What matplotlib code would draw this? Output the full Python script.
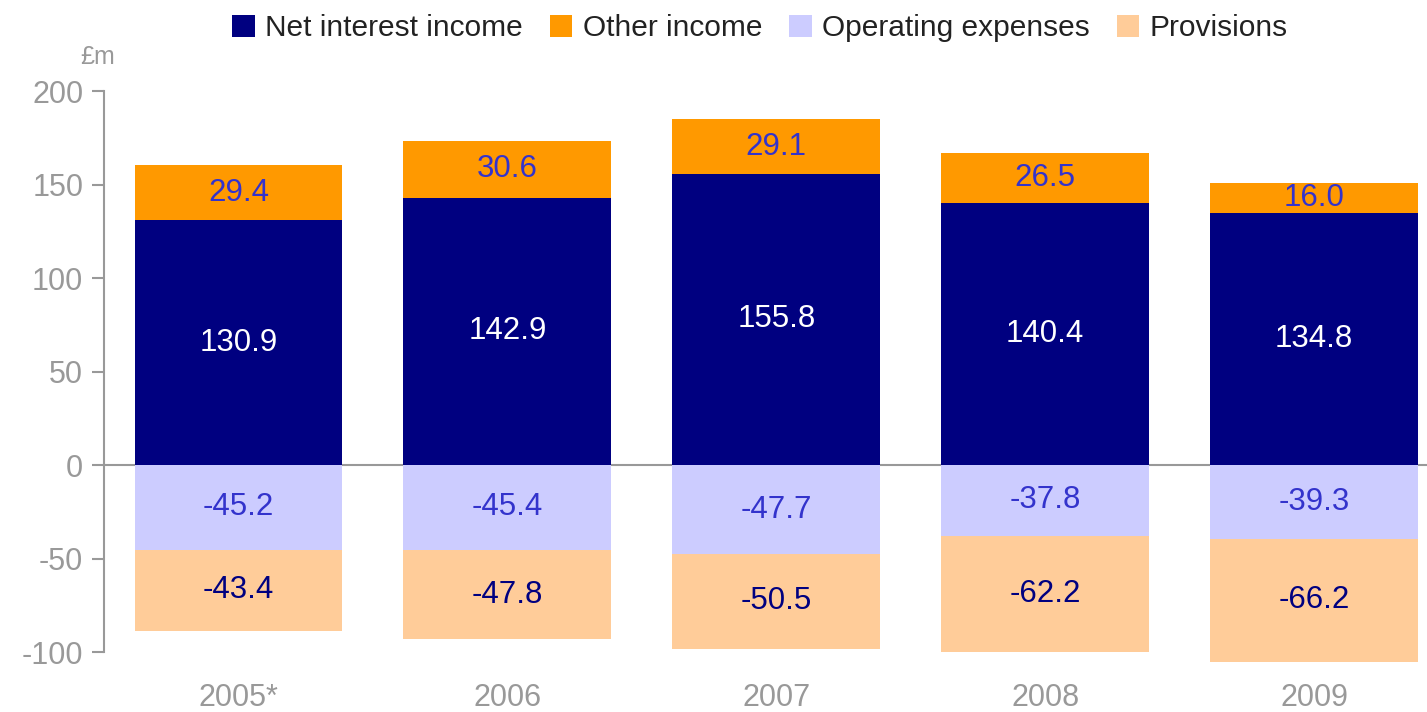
import numpy as np
import matplotlib.pyplot as plt

plt.rcParams['font.family'] = ['Liberation Sans', 'DejaVu Sans']
plt.rcParams['axes.unicode_minus'] = False

# Data (£m)
years = ["2005*", "2006", "2007", "2008", "2009"]
net_interest = [130.9, 142.9, 155.8, 140.4, 134.8]
other_income = [29.4, 30.6, 29.1, 26.5, 16.0]
operating_exp = [-45.2, -45.4, -47.7, -37.8, -39.3]
provisions = [-43.4, -47.8, -50.5, -62.2, -66.2]

c_nii = "#000080"
c_oth = "#FF9900"
c_opx = "#CCCCFF"
c_prov = "#FFCC99"
grey = "#999999"

fig = plt.figure(figsize=(14.27, 7.12), dpi=100)
ax = fig.add_axes([104 / 1427, 0.058, 1 - 104 / 1427, 0.872 - 0.058])

x = np.arange(len(years))
w = 0.773
nii = np.array(net_interest)
oth = np.array(other_income)
opx = np.array(operating_exp)
prov = np.array(provisions)

ax.bar(x, nii, w, color=c_nii, label="Net interest income")
ax.bar(x, oth, w, bottom=nii, color=c_oth, label="Other income")
ax.bar(x, opx, w, color=c_opx, label="Operating expenses")
ax.bar(x, prov, w, bottom=opx, color=c_prov, label="Provisions")

# segment labels, centred in each segment
fs = 22.5
for i in range(len(x)):
    ax.text(x[i], nii[i] / 2, f"{nii[i]:.1f}", ha="center", va="center", color="white", fontsize=fs)
    ax.text(x[i], nii[i] + oth[i] / 2, f"{oth[i]:.1f}", ha="center", va="center", color="#3333CC", fontsize=fs)
    ax.text(x[i], opx[i] / 2, f"{opx[i]:.1f}", ha="center", va="center", color="#3333CC", fontsize=fs)
    ax.text(x[i], opx[i] + prov[i] / 2, f"{prov[i]:.1f}", ha="center", va="center", color=c_nii, fontsize=fs)

ax.axhline(0, color=grey, lw=1.5, zorder=0.5)

ax.set_xlim(-0.5, 4.42)
ax.set_ylim(-110, 200)
ax.set_yticks([-100, -50, 0, 50, 100, 150, 200])
ax.set_xticks(x)
ax.set_xticklabels(years)

for s in ["top", "right", "bottom"]:
    ax.spines[s].set_visible(False)
ax.spines["left"].set_color(grey)
ax.spines["left"].set_linewidth(1.5)
ax.spines["left"].set_bounds(-100, 200)

ax.tick_params(axis="y", colors=grey, labelsize=22, length=9, width=1.5, pad=6)
ax.tick_params(axis="x", colors=grey, labelsize=22, length=0, pad=9)

fig.text(98 / 1427, 1 - 57 / 712, "£m", ha="center", va="center", color=grey, fontsize=18)

fig.legend(*ax.get_legend_handles_labels(), loc="center", bbox_to_anchor=(760 / 1427, 1 - 28 / 712),
           ncol=4, frameon=False, fontsize=21.5, handlelength=0.75, handleheight=0.75,
           handletextpad=0.35, columnspacing=0.9, labelcolor="#222222")

fig.savefig("out.png", dpi=100)
